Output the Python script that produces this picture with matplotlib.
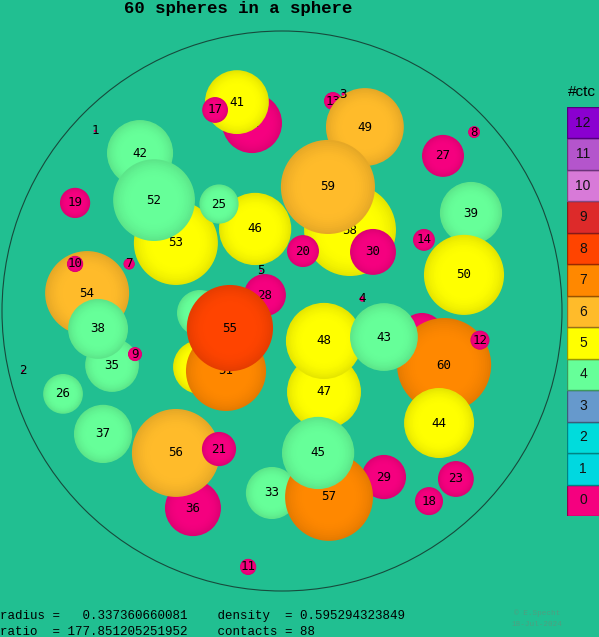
import numpy as np
import matplotlib
matplotlib.use('Agg')
import matplotlib.pyplot as plt
from matplotlib.patches import Circle
from matplotlib.colors import to_rgb

# spheres, listed in drawing order (back to front); container radius = 1
labels = [31, 13, 34, 40, 32, 42, 53, 46, 39, 54, 35, 28, 58, 47, 29, 33, 36, 60,
          41, 17, 52, 25, 49, 59, 30, 20, 27, 50, 14, 8, 38, 10, 9, 19, 7, 26, 37,
          51, 55, 48, 43, 44, 12, 57, 45, 56, 21, 11, 23, 18, 1, 2, 3, 4, 5]
xs = [-0.107, 0.182, -0.293, -0.293, 0.500, -0.507, -0.379, -0.096, 0.675, -0.696,
      -0.607, -0.061, 0.243, 0.150, 0.364, -0.036, -0.318, 0.579,
      -0.161, -0.239, -0.457, -0.225, 0.296, 0.164, 0.325, 0.075, 0.575, 0.650,
      0.507, 0.686, -0.657, -0.739, -0.525, -0.739, -0.546, -0.782, -0.639,
      -0.200, -0.186, 0.150, 0.364, 0.561, 0.707, 0.168, 0.129, -0.379, -0.225,
      -0.121, 0.621, 0.525, -0.668, -0.925, 0.218, 0.286, -0.075]
ys = [0.671, 0.750, -0.007, -0.200, -0.086, 0.564, 0.243, 0.293, 0.350, 0.064,
      -0.193, 0.057, 0.289, -0.289, -0.593, -0.650, -0.704, -0.193,
      0.746, 0.718, 0.396, 0.382, 0.657, 0.443, 0.211, 0.214, 0.554, 0.129,
      0.254, 0.639, -0.064, 0.168, -0.154, 0.386, 0.168, -0.296, -0.439,
      -0.214, -0.061, -0.107, -0.093, -0.400, -0.104, -0.664, -0.507, -0.507, -0.493,
      -0.914, -0.600, -0.679, 0.643, -0.214, 0.775, 0.043, 0.143]
rs = [0.107, 0.032, 0.082, 0.096, 0.079, 0.118, 0.150, 0.129, 0.111, 0.150,
      0.096, 0.075, 0.164, 0.132, 0.079, 0.093, 0.100, 0.168,
      0.114, 0.046, 0.146, 0.070, 0.139, 0.168, 0.082, 0.057, 0.075, 0.143,
      0.039, 0.021, 0.107, 0.029, 0.025, 0.054, 0.020, 0.071, 0.104,
      0.143, 0.154, 0.136, 0.121, 0.125, 0.034, 0.157, 0.129, 0.157, 0.061,
      0.029, 0.064, 0.050, 0.004, 0.004, 0.005, 0.009, 0.004]
contacts = [0, 0, 4, 5, 0, 4, 5, 5, 4, 6, 4, 0, 5, 5, 0, 4, 0, 7,
            5, 0, 4, 4, 6, 6, 0, 0, 0, 5, 0, 0, 4, 0, 0, 0, 0, 4, 4,
            7, 8, 5, 4, 5, 0, 7, 4, 6, 0, 0, 0, 0, 0, 0, 0, 0, 0]

ctc_levels = list(range(13))
ctc_colors = ['#f5007f', '#00d8e0', '#00dcdc', '#6699cc', '#66ff99', '#ffff00',
              '#ffbb2a', '#ff8800', '#ff4400', '#dd2a2a', '#d87ad8', '#b455cc', '#8a00d0']

title = '60 spheres in a sphere'
info1 = 'radius =   0.337360660081    density  = 0.595294323849'
info2 = 'ratio  = 177.851205251952    contacts = 88'

bg = '#21bf91'
W, H = 599, 637
CX, CY, RPX = 282, 311, 280

fig = plt.figure(figsize=(W / 100, H / 100), dpi=100, facecolor=bg)
ax = fig.add_axes([0, 0, 1, 1])
ax.set_facecolor(bg)
ax.set_xlim(-CX / RPX, (W - CX) / RPX)
ax.set_ylim(-(H - CY) / RPX, CY / RPX)
ax.axis('off')

ax.add_patch(Circle((0, 0), 1, fill=False, ec='#174a3c', lw=0.8, zorder=1))

# sphere look: slightly darker rim, brighter centre (fine steps)
fr = np.linspace(1.0, 0.55, 12)
shade = 1.0 - 0.1 * ((fr - 0.55) / 0.45) ** 2
for i, (lab, x, y, r, c) in enumerate(zip(labels, xs, ys, rs, contacts)):
    base = np.array(to_rgb(ctc_colors[c]))
    z = 2 + i * 2
    for f, s in zip(fr, shade):
        ax.add_patch(Circle((x, y), r * f, color=tuple(base * s), lw=0, zorder=z))
    ax.text(x, y, str(lab), ha='center', va='center', fontsize=9,
            family='DejaVu Sans Mono', color='black', zorder=z + 1)

fig.text(238 / W, 1 - 8 / H, title, ha='center', va='center', fontsize=12.5,
         family='Liberation Mono', weight='bold')
fig.text(0, 1 - 616 / H, info1, ha='left', va='center', fontsize=9, family='Liberation Mono')
fig.text(0, 1 - 632 / H, info2, ha='left', va='center', fontsize=9, family='Liberation Mono')
fig.text(537 / W, 1 - 613 / H, '\u00a9 E.Specht', ha='center', va='center', fontsize=5.5,
         family='Liberation Mono', color='#4f9f80')
fig.text(537 / W, 1 - 624 / H, '18-Jul-2024', ha='center', va='center', fontsize=5.5,
         family='Liberation Mono', color='#4f9f80')

# colour key
cax = fig.add_axes([567 / W, 1 - 516 / H, 40 / W, 409 / H])
cax.set_xlim(0, 1)
cax.set_ylim(-0.5, 12.5)
cax.axis('off')
edge = [tuple(np.array(to_rgb(col)) * 0.6) for col in ctc_colors]
cax.barh(ctc_levels, 1, height=1, left=0, color=ctc_colors, edgecolor=edge, linewidth=1)
for lv in ctc_levels:
    cax.text(16 / 40, lv, str(lv), ha='center', va='center', fontsize=10,
             family='Liberation Sans', color='#111111')
fig.text(582 / W, 1 - 92 / H, '#ctc', ha='center', va='center', fontsize=11,
         family='Liberation Sans')

fig.savefig('out.png', dpi=100, facecolor=bg)
